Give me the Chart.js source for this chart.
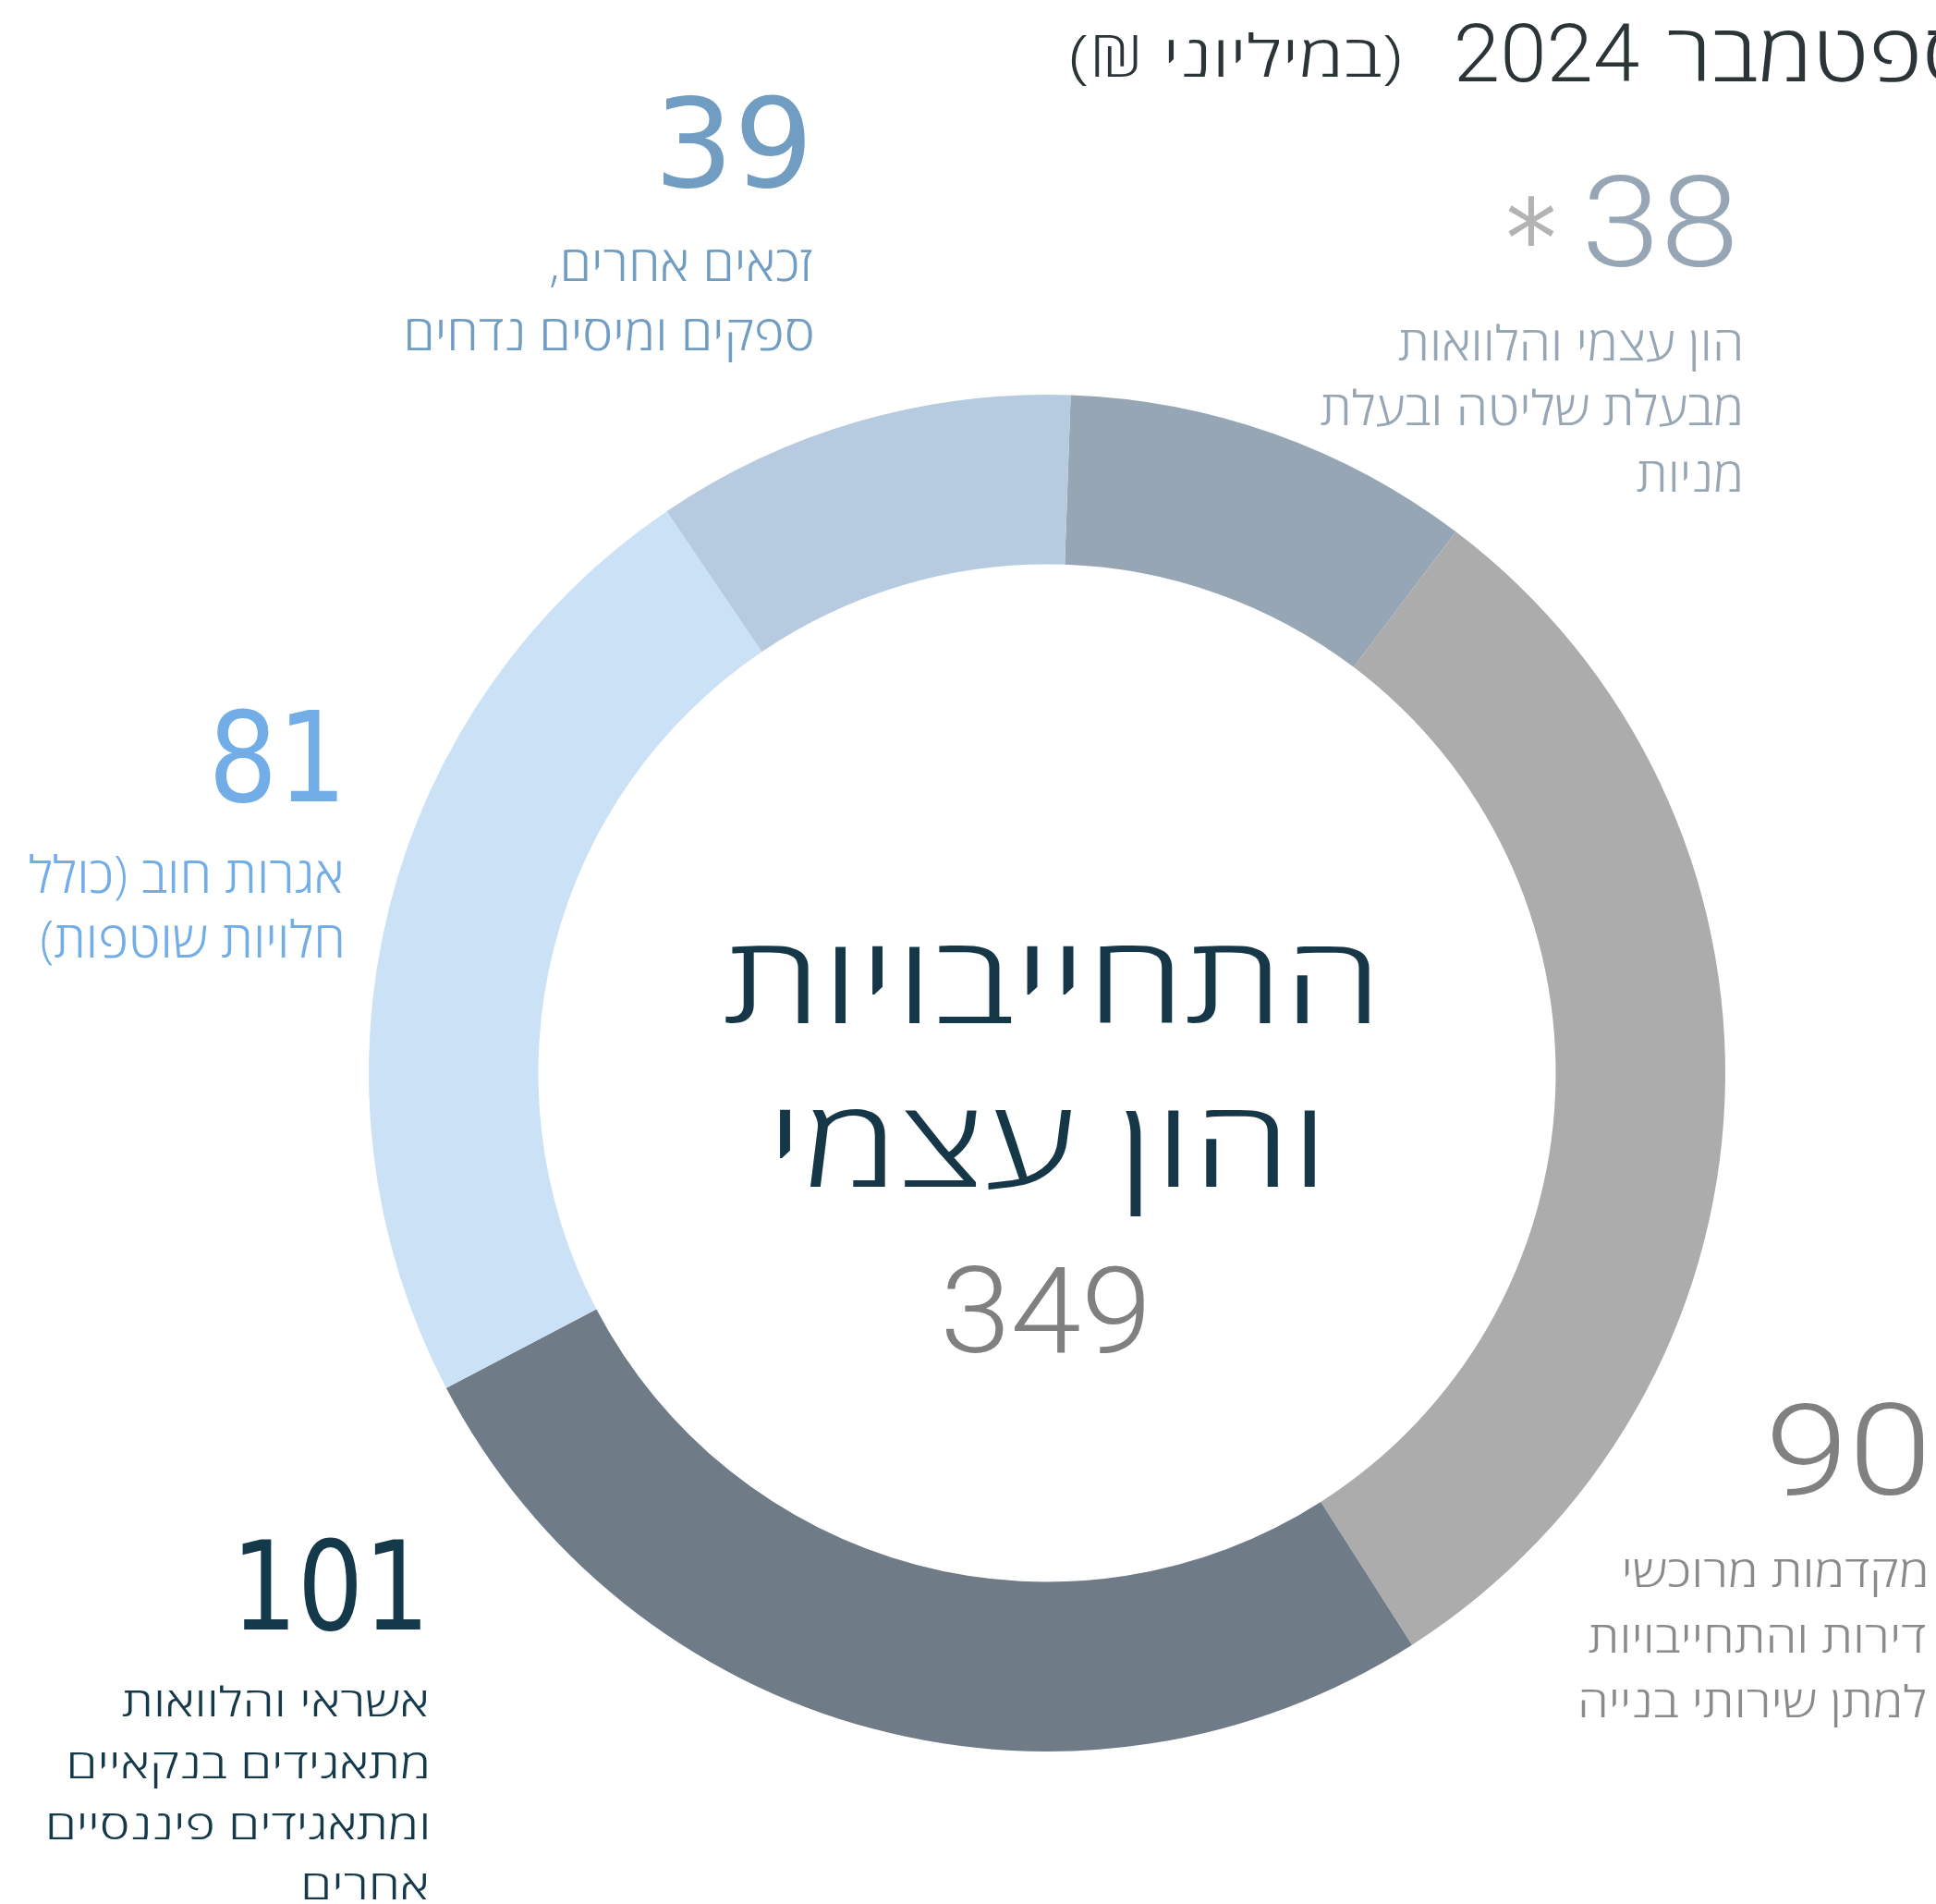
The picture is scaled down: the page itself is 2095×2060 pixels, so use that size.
<!DOCTYPE html>
<html lang="he">
<head>
<meta charset="utf-8">
<title>התחייבויות והון עצמי</title>
<script src="https://cdn.jsdelivr.net/npm/chart.js@4.4.1/dist/chart.umd.min.js"></script>
<style>
  html, body { margin: 0; padding: 0; background: #fff; }
  canvas { display: block; }
</style>
</head>
<body>
<canvas id="liabChart" width="2095" height="2060"></canvas>
<script>
// slices clockwise from the top of the ring
var categories = [
  "הון עצמי והלוואות מבעלת שליטה ובעלת מניות",
  "מקדמות מרוכשי דירות והתחייבויות למתן שירותי בנייה",
  "אשראי והלוואות מתאגידים בנקאיים ומתאגידים פיננסיים אחרים",
  "אגרות חוב (כולל חלויות שוטפות)",
  "זכאים אחרים, ספקים ומיסים נדחים"
];
var values = [38, 90, 101, 81, 39];
// part of the ring each slice covers in the picture (not quite the printed values)
var ringShares = [34, 107, 92, 81, 35];
var labelLines = [
  ["הון עצמי והלוואות", "מבעלת שליטה ובעלת", "מניות"],
  ["מקדמות מרוכשי", "דירות והתחייבויות", "למתן שירותי בנייה"],
  ["אשראי והלוואות", "מתאגידים בנקאיים", "ומתאגידים פיננסיים", "אחרים"],
  ["אגרות חוב (כולל", "חלויות שוטפות)"],
  ["זכאים אחרים,", "ספקים ומיסים נדחים"]
];
var centerTitle = ["התחייבויות", "והון עצמי"];
var titleParts = ["ספטמבר", "2024", "(במיליוני ₪)"];

var sliceColors = ["#97a6b5", "#acacac", "#6f7b87", "#cbe1f6", "#b6cbdf"];
var numColors   = ["#97a6b5", "#808080", "#14394a", "#72ade8", "#729dc3"];
var textColors  = ["#97a6b5", "#8a8a8a", "#14394a", "#72ade8", "#729dc3"];

var HEB = "'Open Sans', 'DejaVu Sans Condensed', 'DejaVu Sans', sans-serif";
var NARROW = "'Roboto', 'Liberation Sans Narrow', sans-serif";
var FLAG = "'DejaVu Sans', sans-serif";

// where each label block sits (number box and text lines)
var labelPos = [
  {nx: 1875, ny: 288, nh: 101, nw: 157, nf: NARROW, nwt: 300, tx: 1883, ty: [390, 460, 532], th: 33, tw: 370},
  {nx: 2082, ny: 1617, nh: 101, nw: 165, nf: NARROW, nwt: 300, tx: 2084, ty: [1717, 1788, 1858], th: 30, tw: 326},
  {nx: 455, ny: 1763, nh: 101, nw: 193, nf: FLAG, nwt: 400, tx: 462, ty: [1857, 1924, 1990, 2055], th: 28, tw: 330},
  {nx: 365, ny: 867, nh: 102, nw: 132, nf: FLAG, nwt: 400, tx: 370, ty: [966, 1036], th: 35, tw: 338},
  {nx: 871, ny: 202, nh: 101, nw: 153, nf: FLAG, nwt: 400, tx: 879, ty: [304, 379], th: 34, tw: 283}
];

function sizeFor(c, weight, family, ref, h) {
  c.font = weight + " 200px " + family;
  var m = c.measureText(ref);
  return 200 * h / (m.actualBoundingBoxAscent + m.actualBoundingBoxDescent);
}

// draws text so its ink matches a given height (of ref glyph) and width
function inkText(c, o) {
  c.save();
  c.direction = o.rtl ? "rtl" : "ltr";
  c.textAlign = "left";
  c.textBaseline = "alphabetic";
  var size = sizeFor(c, o.weight, o.family, o.ref, o.h);
  c.font = o.weight + " " + size + "px " + o.family;
  var m = c.measureText(o.text);
  var l = -m.actualBoundingBoxLeft, r = m.actualBoundingBoxRight;
  var sx = o.sx || 1;
  if (o.width) {
    var mf = o.fit ? c.measureText(o.fit) : m;
    sx = o.width / (mf.actualBoundingBoxRight + mf.actualBoundingBoxLeft);
  }
  var ax = o.align === "right" ? r : (o.align === "center" ? (l + r) / 2 : l);
  var y = o.top !== undefined ? o.top + m.actualBoundingBoxAscent : o.y;
  c.translate(o.x - sx * ax, y);
  c.scale(sx, 1);
  c.fillStyle = o.color;
  c.fillText(o.text, 0, 0);
  c.restore();
  return sx;
}

var textPlugin = {
  id: "ringText",
  afterDraw: function(chart) {
    var c = chart.ctx;
    var cx = (chart.chartArea.left + chart.chartArea.right) / 2;
    var total = values.reduce(function(a, b) { return a + b; }, 0);
    var titleColor = "#2b3538";

    // header, runs off the right edge
    inkText(c, {text: titleParts[0], fit: "פטמבר", x: 1805, y: 88, h: 55, ref: "ה", width: 270,
      weight: 300, family: HEB, color: titleColor, align: "left", rtl: true});
    inkText(c, {text: titleParts[1], x: 1577, y: 88, h: 64, ref: "0", width: 196,
      weight: 300, family: NARROW, color: titleColor, align: "left"});
    inkText(c, {text: titleParts[2], x: 1515, y: 83, h: 40, ref: "ה", width: 356,
      weight: 300, family: HEB, color: titleColor, align: "right", rtl: true});

    // centre
    inkText(c, {text: centerTitle[0], x: cx, y: 1107, h: 84, ref: "ה", width: 698,
      weight: 300, family: HEB, color: "#163748", align: "center", rtl: true});
    inkText(c, {text: centerTitle[1], x: cx, y: 1284, h: 84, ref: "ה", width: 580,
      weight: 300, family: HEB, color: "#163748", align: "center", rtl: true});
    inkText(c, {text: String(total), x: cx - 2, y: 1463, h: 96, ref: "0", width: 215,
      weight: 300, family: NARROW, color: "#808080", align: "center"});

    // slice labels
    labelPos.forEach(function(p, i) {
      inkText(c, {text: String(values[i]), x: p.nx, y: p.ny, h: p.nh, ref: "0", width: p.nw,
        weight: p.nwt, family: p.nf, color: numColors[i], align: "right"});
      var sx = null;
      labelLines[i].forEach(function(line, j) {
        var o = {text: line, x: p.tx, y: p.ty[j], h: p.th, ref: "ה", weight: 300, family: HEB,
          color: textColors[i], align: "right", rtl: true};
        if (j === 0) o.width = p.tw; else o.sx = sx;
        var s = inkText(c, o);
        if (j === 0) sx = s;
      });
    });
    // asterisk next to the first value
    inkText(c, {text: "*", x: 1657, top: 212, h: 54, ref: "*", width: 50,
      weight: 400, family: FLAG, color: "#b3b3b3", align: "center"});
  }
};

var ctx = document.getElementById("liabChart").getContext("2d");
var liabChart = new Chart(ctx, {
  type: "doughnut",
  data: {
    labels: categories,
    datasets: [{
      data: ringShares,
      backgroundColor: sliceColors,
      borderWidth: 0
    }]
  },
  options: {
    responsive: false,
    animation: false,
    events: [],
    cutout: "75%",
    rotation: 2,
    layout: { padding: { left: 399, right: 228, top: 427, bottom: 165 } },
    plugins: { legend: { display: false }, tooltip: { enabled: false } }
  },
  plugins: [textPlugin]
});
</script>
</body>
</html>
